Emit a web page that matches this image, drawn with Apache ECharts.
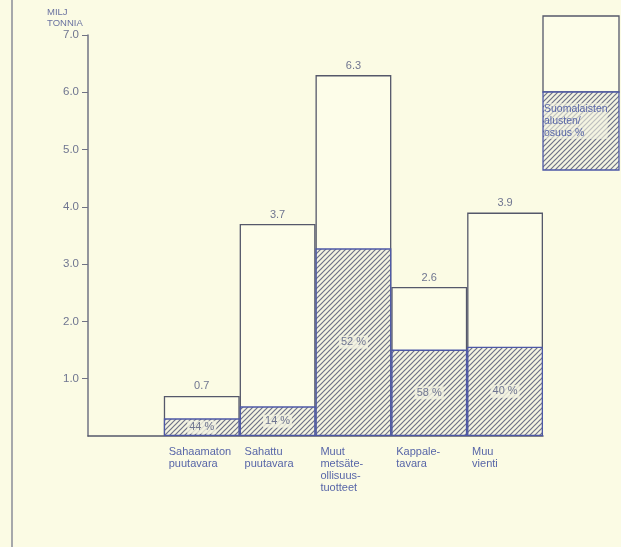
<!DOCTYPE html>
<html><head><meta charset="utf-8">
<script src="https://cdn.jsdelivr.net/npm/echarts@6/dist/echarts.min.js"></script>
<style>html,body{margin:0;padding:0;background:#fbfbe4;}#c{width:621px;height:547px;}</style>
</head><body><div id="c"></div>
<script>
const categories = ['', 'Sahaamaton\npuutavara', 'Sahattu\npuutavara', 'Muut\nmetsäte-\nollisuus-\ntuotteet', 'Kappale-\ntavara', 'Muu\nvienti'];
const totals = [null, 0.7, 3.7, 6.3, 2.6, 3.9];
const sharePct = [null, 44, 14, 52, 58, 40];
const yTicks = [1, 2, 3, 4, 5, 6, 7];

const shareVals = totals.map((t, i) => t == null ? null : t * sharePct[i] / 100);

function hatch() {
  const c = document.createElement('canvas');
  c.width = 5; c.height = 5;
  const g = c.getContext('2d');
  g.fillStyle = '#f4f4e2'; g.fillRect(0, 0, 5, 5);
  g.strokeStyle = '#6e7288'; g.lineWidth = 1.2;
  g.beginPath();
  g.moveTo(-1, 6); g.lineTo(6, -1);
  g.moveTo(-1, 1); g.lineTo(1, -1);
  g.moveTo(4, 6); g.lineTo(6, 4);
  g.stroke();
  return { image: c, repeat: 'repeat' };
}
const pat = hatch();
const txt = '#6f7590';
const font = 'Liberation Sans, Arial, sans-serif';

const chart = echarts.init(document.getElementById('c'));
chart.setOption({
  backgroundColor: '#fbfbe4',
  animation: false,
  grid: { left: 88, right: 78, top: 35, bottom: 111 },
  xAxis: {
    type: 'category', data: categories,
    axisLine: { lineStyle: { color: '#55586a', width: 1.5 } },
    axisTick: { show: false }, axisLabel: { show: false }
  },
  yAxis: {
    type: 'value', min: 0, max: 7, interval: 1,
    axisLine: { show: true, lineStyle: { color: '#707384', width: 1.5 } },
    axisTick: { show: true, inside: false, length: 6, customValues: yTicks, lineStyle: { color: '#707384' } },
    splitLine: { show: false },
    axisLabel: {
      color: txt, fontFamily: font, fontSize: 11.5, margin: 9, customValues: yTicks,
      formatter: v => v.toFixed(1)
    }
  },
  series: [
    {
      type: 'bar', data: totals, barWidth: '100%', barGap: '-100%',
      itemStyle: { color: '#fdfde9', borderColor: '#55586a', borderWidth: 1.3 },
      label: { show: true, position: 'top', distance: 4, color: txt, fontFamily: font, fontSize: 11,
        formatter: p => p.value == null ? '' : p.value.toFixed(1) }
    },
    {
      type: 'bar', data: shareVals, barWidth: '100%', barGap: '-100%',
      itemStyle: { color: pat, borderColor: '#4d58a6', borderWidth: 1.3 },
      label: { show: true, position: 'inside', color: txt, fontFamily: font, fontSize: 11,
        backgroundColor: 'rgba(244,244,226,0.8)', padding: [1, 2],
        formatter: p => sharePct[p.dataIndex] == null ? '' : sharePct[p.dataIndex] + ' %' }
    },
    {
      type: 'bar', data: totals.map(t => t == null ? null : 0), barWidth: '100%', barGap: '-100%',
      itemStyle: { color: 'transparent' }, silent: true,
      label: { show: true, position: 'bottom', distance: 10, align: 'left', offset: [-33, 0],
        verticalAlign: 'top', color: '#5866a8', fontFamily: font, fontSize: 11, lineHeight: 12,
        formatter: p => categories[p.dataIndex] }
    }
  ],
  graphic: [
    { type: 'line', shape: { x1: 12, y1: 0, x2: 12, y2: 547 }, style: { stroke: '#8a8c98', lineWidth: 1.5 } },
    { type: 'text', left: 47, top: 7, style: { text: 'MILJ\nTONNIA', fill: '#6a72a0', font: '9.5px ' + font, lineHeight: 11 } },
    { type: 'rect', shape: { x: 543, y: 16, width: 76, height: 76 }, style: { fill: '#fdfde9', stroke: '#55586a', lineWidth: 1.3 } },
    { type: 'rect', shape: { x: 543, y: 92, width: 76, height: 78 }, style: { fill: pat, stroke: '#4d58a6', lineWidth: 1.3 } },
    { type: 'text', x: 544, y: 103, style: { text: 'Suomalaisten\nalusten/\nosuus %', fill: '#5866a8', font: '10.5px ' + font, lineHeight: 12, backgroundColor: 'rgba(244,244,226,0.6)' } }
  ]
});
</script></body></html>
